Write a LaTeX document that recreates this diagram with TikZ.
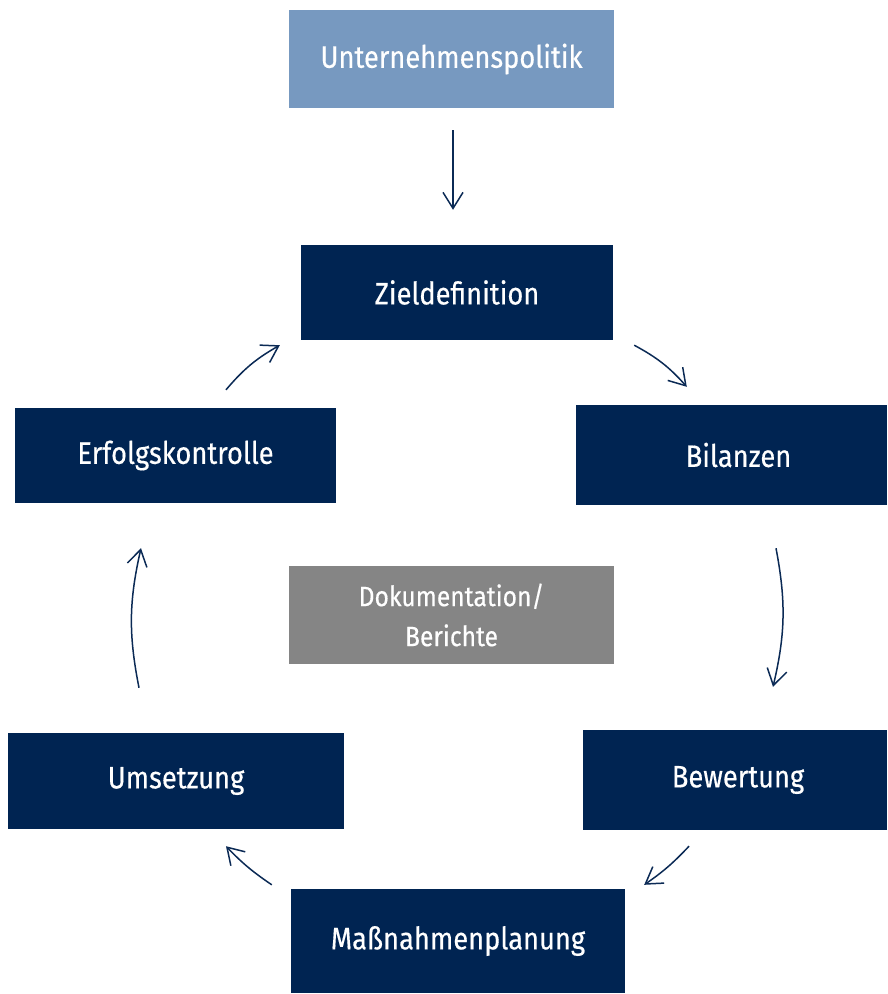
\documentclass[tikz,border=0pt]{standalone}
\usepackage{fontspec}
\setmainfont[FakeStretch=0.88,FakeBold=0.4]{Fira Sans}
\usetikzlibrary{arrows.meta,calc}
\definecolor{navy}{HTML}{002452}
\definecolor{lineblue}{HTML}{0B2A55}
\definecolor{polblue}{HTML}{7799C0}
\definecolor{dokgray}{HTML}{858585}
\tikzset{
  box/.style={fill=navy, draw=none, text=white, align=center, inner sep=0pt, font=\fontsize{31}{36}\selectfont},
  arr/.style={draw=lineblue, line width=1.5pt, -{Straight Barb[length=16pt,width=20pt,line width=1.5pt]}},
}
\begin{document}
\begin{tikzpicture}[x=1pt,y=-1pt]
\useasboundingbox (0,0) rectangle (888,994);
\node[box, fill=polblue, minimum width=325pt, minimum height=98pt] (pol) at (451.5,59) {\raisebox{-3pt}{Unternehmenspolitik}};
\node[box, minimum width=312pt, minimum height=95pt] (ziel) at (457,292.5) {Zieldefinition};
\node[box, minimum width=311pt, minimum height=100pt] (bil) at (731.5,455) {\hspace*{14pt}Bilanzen};
\node[box, minimum width=321pt, minimum height=95pt] (erf) at (175.5,455.5) {Erfolgskontrolle};
\node[box, fill=dokgray, minimum width=325pt, minimum height=98pt, font=\fontsize{28}{40}\selectfont] (dok) at (451.5,615) {Dokumentation/\\Berichte};
\node[box, minimum width=336pt, minimum height=96pt] (ums) at (176,781) {\raisebox{-2pt}{Umsetzung}};
\node[box, minimum width=304pt, minimum height=100pt] (bew) at (735,780) {\hspace*{6pt}\raisebox{-2pt}{Bewertung}};
\node[box, minimum width=334pt, minimum height=104pt] (mas) at (458,941) {\raisebox{-2pt}{Maßnahmenplanung}};

\draw[arr] ($(pol.south)+(1.5,22)$) -- ($(ziel.north)+(-4,-35)$);
\draw[arr] ($(erf.north)+(50.5,-18)$) to[bend left=10] ($(ziel.south west)+(-21,5)$);
\draw[arr] ($(ziel.south east)+(21,5)$) to[bend left=10] ($(bil.north west)+(111,-18)$);
\draw[arr] ($(bil.south)+(44.5,43)$) to[bend left=12] ($(bew.north)+(38,-43)$);
\draw[arr] ($(bew.south)+(-46,16)$) to[bend left=6] ($(mas.north east)+(19,-4)$);
\draw[arr] ($(mas.north west)+(-19,-4)$) to[bend left=6] ($(ums.south)+(50,17)$);
\draw[arr] ($(ums.north)+(-37,-45)$) to[bend left=12] ($(erf.south)+(-34.5,45)$);
\end{tikzpicture}
\end{document}
